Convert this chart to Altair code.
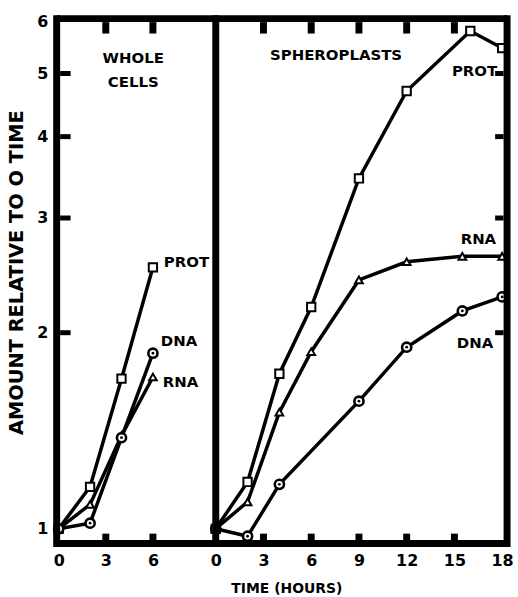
import math

import altair as alt
import pandas as pd

# ---- data -------------------------------------------------------------
whole_time = [0, 2, 4, 6]
whole_prot = [1.00, 1.16, 1.70, 2.52]
whole_dna = [1.00, 1.02, 1.38, 1.86]
whole_rna = [1.00, 1.09, 1.39, 1.71]

sph_prot_time = [0, 2, 4, 6, 9, 12, 16, 18]
sph_prot = [1.00, 1.18, 1.73, 2.19, 3.45, 4.70, 5.81, 5.47]
sph_rna_time = [0, 2, 4, 6, 9, 12, 15.5, 18]
sph_rna = [1.00, 1.10, 1.51, 1.87, 2.41, 2.57, 2.62, 2.62]
sph_dna_time = [0, 2, 4, 9, 12, 15.5, 18]
sph_dna = [1.00, 0.974, 1.17, 1.57, 1.90, 2.16, 2.27]

y_labels = [1, 2, 3, 4, 5, 6]
y_inner_ticks = [2, 3, 4, 5]
whole_x_labels = [0, 3, 6]
whole_x_inner = [3, 6]
sph_x_labels = [0, 3, 6, 9, 12, 15, 18]
sph_x_inner = [3, 6, 9, 12, 15]

y_domain = [0.949, 6.07]
whole_x_domain = [-0.127, 10.0]
sph_x_domain = [0, 18.31]

# ---- style ------------------------------------------------------------
FONT = "DejaVu Sans"
H = 528
WL = 160
WR = 293
HALF = 3.5  # half the frame thickness
Y_SCALE = alt.Scale(type="log", domain=y_domain, nice=False, zero=False)
ONE = pd.DataFrame({"k": [0]})
Y_DECADE_PX = H / math.log10(y_domain[1] / y_domain[0])


def y_factor(px):
    """Multiplicative step on the log axis that spans `px` pixels."""
    return 10 ** (px / Y_DECADE_PX)


def x_step(domain, width, px):
    return px * (domain[1] - domain[0]) / width


def bold_text(**kw):
    return dict(font=FONT, fontWeight="bold", color="black", **kw)


def x_axis(values, title=None, **extra):
    opts = dict(values=values, format="d", ticks=False, domain=False, grid=False,
                labelFont=FONT, labelFontSize=16, labelFontWeight="bold",
                labelColor="black", labelPadding=9, labelFlush=False)
    if title is not None:
        opts.update(title=title, titleFont=FONT, titleFontSize=14,
                    titleFontWeight="bold", titleColor="black", **extra)
    else:
        opts.update(title=None)
    return alt.Axis(**opts)


def bar(x0, x1, y0, y1):
    return (alt.Chart(ONE).mark_rect(color="black")
            .encode(x=alt.value(x0), x2=alt.value(x1), y=alt.value(y0), y2=alt.value(y1)))


def tick_segments(x_domain, x_inner, width, side):
    """Short inward strokes on the frame: x ticks top and bottom, y ticks on one side.
    Each starts just inside the frame bar so it merges with it."""
    horiz, vert = [], []
    k = 0
    for t in x_inner:
        for v in (y_domain[1] / y_factor(HALF), y_domain[1] / y_factor(15)):
            vert.append(dict(t=t, v=v, k=k))
        k += 1
        for v in (y_domain[0] * y_factor(HALF), y_domain[0] * y_factor(10)):
            vert.append(dict(t=t, v=v, k=k))
        k += 1
    if side == "left":
        a = x_domain[0] + x_step(x_domain, width, HALF)
        b = x_domain[0] + x_step(x_domain, width, 14)
    else:
        a = x_domain[1] - x_step(x_domain, width, 12)
        b = x_domain[1] - x_step(x_domain, width, HALF)
    for v in y_inner_ticks:
        horiz.append(dict(t=a, v=v, k=k))
        horiz.append(dict(t=b, v=v, k=k))
        k += 1
    return pd.DataFrame(vert), pd.DataFrame(horiz)


def panel(series, labels, headings, x_domain, x_inner, width, side, xax, yax):
    xs = alt.Scale(domain=x_domain, nice=False, zero=False)
    x_enc = alt.X("t:Q", scale=xs, axis=xax)
    y_enc = alt.Y("v:Q", scale=Y_SCALE, axis=yax)
    layers = []
    frames = [pd.DataFrame({"t": t, "v": v}) for _, t, v, _ in series]
    for df in frames:
        layers.append(alt.Chart(df).mark_line(color="black", strokeWidth=3.5)
                      .encode(x=x_enc, y=y_enc, order="t:Q"))
    for df, (_, _, _, shape) in zip(frames, series):
        base = alt.Chart(df).encode(x=x_enc, y=y_enc)
        if shape == "circle":
            layers.append(base.mark_point(shape="circle", size=85, filled=True, fill="white",
                                          stroke="black", strokeWidth=2.6, opacity=1))
            layers.append(base.mark_point(shape="circle", size=8, filled=True,
                                          color="black", opacity=1))
        elif shape == "square":
            layers.append(base.mark_point(shape="square", size=70, filled=True, fill="white",
                                          stroke="black", strokeWidth=2, opacity=1))
        else:
            layers.append(base.mark_point(shape="triangle-up", size=60, filled=True, fill="white",
                                          stroke="black", strokeWidth=2, opacity=1))
    for text, t, v, align, dx, dy in labels:
        layers.append(alt.Chart(pd.DataFrame({"t": [t], "v": [v]}))
                      .mark_text(**bold_text(text=text, align=align, baseline="middle",
                                             dx=dx, dy=dy, fontSize=15))
                      .encode(x=x_enc, y=y_enc))
    for text, px, py in headings:
        layers.append(alt.Chart(ONE)
                      .mark_text(**bold_text(text=text, align="center", baseline="middle",
                                             fontSize=15))
                      .encode(x=alt.value(px), y=alt.value(py)))
    vert, horiz = tick_segments(x_domain, x_inner, width, side)
    layers.append(alt.Chart(vert).mark_line(color="black", strokeWidth=7, strokeCap="butt",
                                            strokeJoin="bevel")
                  .encode(x=x_enc, y=y_enc, detail="k:N"))
    layers.append(alt.Chart(horiz).mark_line(color="black", strokeWidth=5, strokeCap="butt",
                                             strokeJoin="bevel")
                  .encode(x=x_enc, y=y_enc, detail="k:N"))
    # heavy frame
    layers.append(bar(-HALF, HALF, -HALF, H + HALF))
    layers.append(bar(0, width, -HALF, HALF))
    layers.append(bar(0, width, H - HALF, H + HALF))
    if side == "right":
        layers.append(bar(width - HALF, width + HALF, -HALF, H + HALF))
    return alt.layer(*layers).properties(width=width, height=H)


y_axis_left = alt.Axis(values=y_labels, format="d", ticks=False, domain=False, grid=False,
                       labelFont=FONT, labelFontSize=16, labelFontWeight="bold",
                       labelColor="black", labelPadding=9,
                       title="AMOUNT RELATIVE TO O TIME", titleFont=FONT,
                       titleFontSize=19.5, titleFontWeight="bold", titleColor="black",
                       titlePadding=10, titleY=255)

left = panel(
    series=[("PROT", whole_time, whole_prot, "square"),
            ("RNA", whole_time, whole_rna, "triangle"),
            ("DNA", whole_time, whole_dna, "circle")],
    labels=[("PROT", whole_time[-1], whole_prot[-1], "left", 11, -5),
            ("DNA", whole_time[-1], whole_dna[-1], "left", 8, -12),
            ("RNA", whole_time[-1], whole_rna[-1], "left", 10, 5)],
    headings=[("WHOLE", 77, 39.5), ("CELLS", 77, 63.5)],
    x_domain=whole_x_domain, x_inner=whole_x_inner, width=WL, side="left",
    xax=x_axis(whole_x_labels), yax=y_axis_left,
)

right = panel(
    series=[("PROT", sph_prot_time, sph_prot, "square"),
            ("RNA", sph_rna_time, sph_rna, "triangle"),
            ("DNA", sph_dna_time, sph_dna, "circle")],
    labels=[("PROT", sph_prot_time[-1], sph_prot[-1], "right", -5, 23),
            ("RNA", sph_rna_time[-1], sph_rna[-1], "right", -6, -17),
            ("DNA", sph_dna_time[-1], sph_dna[-1], "right", -9, 46)],
    headings=[("SPHEROPLASTS", 121, 37)],
    x_domain=sph_x_domain, x_inner=sph_x_inner, width=WR, side="right",
    xax=x_axis(sph_x_labels, title="TIME (HOURS)", titleX=71, titleY=45,
               titleAlign="center", titleBaseline="middle"),
    yax=None,
)

chart = (
    alt.hconcat(left, right, spacing=0, bounds="flush")
    .properties(padding={"left": 6, "top": 12, "right": 4, "bottom": 4},
                background="white")
    .configure_view(stroke=None)
)

chart.save("out.html", embed_options={"renderer": "svg", "actions": False})
